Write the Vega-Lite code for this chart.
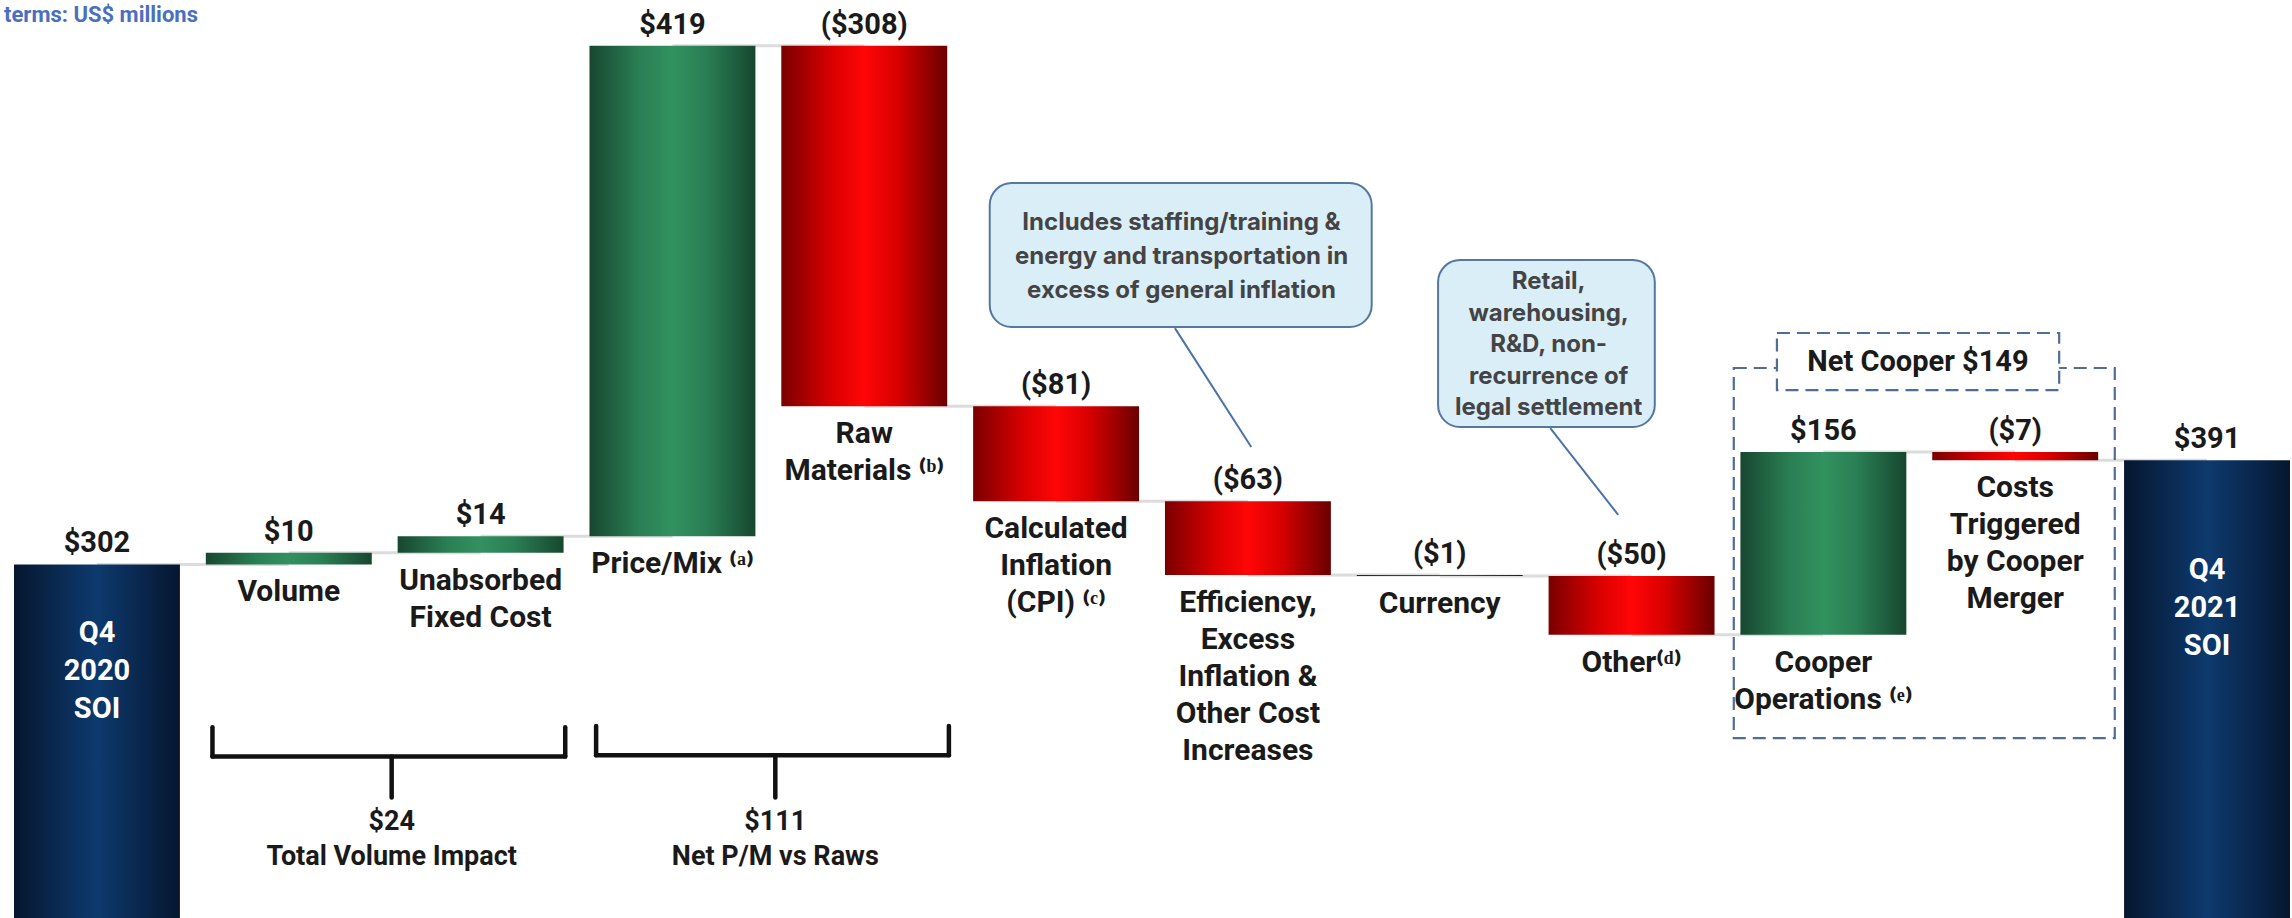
{
  "$schema": "https://vega.github.io/schema/vega-lite/v6.json",
  "width": 2292,
  "height": 918,
  "padding": 0,
  "autosize": {"type": "none"},
  "background": "white",
  "config": {"view": {"stroke": null}, "axis": {"disable": true}, "legend": {"disable": true}},
  "datasets": {
    "bars": [
      {"cat": "Q4 2020 SOI", "kind": "total", "start": 0, "end": 302, "top": 302, "bottom": 0, "value": "$302", "label": "", "next": "Volume"},
      {"cat": "Volume", "kind": "up", "start": 302, "end": 312, "top": 312, "bottom": 302, "value": "$10", "label": "Volume", "next": "Unabsorbed Fixed Cost"},
      {"cat": "Unabsorbed Fixed Cost", "kind": "up", "start": 312, "end": 326, "top": 326, "bottom": 312, "value": "$14", "label": "Unabsorbed\nFixed Cost", "next": "Price/Mix"},
      {"cat": "Price/Mix", "kind": "up", "start": 326, "end": 745, "top": 745, "bottom": 326, "value": "$419", "label": "Price/Mix ⁽ᵃ⁾", "next": "Raw Materials"},
      {"cat": "Raw Materials", "kind": "down", "start": 745, "end": 437, "top": 745, "bottom": 437, "value": "($308)", "label": "Raw\nMaterials ⁽ᵇ⁾", "next": "Calculated Inflation"},
      {"cat": "Calculated Inflation", "kind": "down", "start": 437, "end": 356, "top": 437, "bottom": 356, "value": "($81)", "label": "Calculated\nInflation\n(CPI) ⁽ᶜ⁾", "next": "Efficiency"},
      {"cat": "Efficiency", "kind": "down", "start": 356, "end": 293, "top": 356, "bottom": 293, "value": "($63)", "label": "Efficiency,\nExcess\nInflation &\nOther Cost\nIncreases", "next": "Currency"},
      {"cat": "Currency", "kind": "down", "start": 293, "end": 292, "top": 293, "bottom": 292, "value": "($1)", "label": "Currency", "next": "Other"},
      {"cat": "Other", "kind": "down", "start": 292, "end": 242, "top": 292, "bottom": 242, "value": "($50)", "label": "Other⁽ᵈ⁾", "next": "Cooper Operations"},
      {"cat": "Cooper Operations", "kind": "up", "start": 242, "end": 398, "top": 398, "bottom": 242, "value": "$156", "label": "Cooper\nOperations ⁽ᵉ⁾", "next": "Costs Triggered"},
      {"cat": "Costs Triggered", "kind": "down", "start": 398, "end": 391, "top": 398, "bottom": 391, "value": "($7)", "label": "Costs\nTriggered\nby Cooper\nMerger", "next": "Q4 2021 SOI"},
      {"cat": "Q4 2021 SOI", "kind": "total", "start": 0, "end": 391, "top": 391, "bottom": 0, "value": "$391", "label": "", "next": null}
    ],
    "inner": [
      {"cat": "Q4 2020 SOI", "y": 243.4, "text": "Q4\n2020\nSOI"},
      {"cat": "Q4 2021 SOI", "y": 297, "text": "Q4\n2021\nSOI"}
    ],
    "braces": [
      {"a": "Volume", "b": "Unabsorbed Fixed Cost", "top": 163, "mid": 138, "tip": 103, "ty": 82, "text": "$24\nTotal Volume Impact"},
      {"a": "Price/Mix", "b": "Raw Materials", "top": 164, "mid": 139, "tip": 103, "ty": 82, "text": "$111\nNet P/M vs Raws"}
    ]
  },
  "layer": [
    {
      "data": {"name": "bars"},
      "transform": [{"filter": "datum.next != null"}],
      "mark": {"type": "rule", "color": "#dcdcdc", "strokeWidth": 3},
      "encoding": {
        "x": {"field": "cat", "type": "nominal", "scale": {"type": "band", "domain": ["Q4 2020 SOI", "Volume", "Unabsorbed Fixed Cost", "Price/Mix", "Raw Materials", "Calculated Inflation", "Efficiency", "Currency", "Other", "Cooper Operations", "Costs Triggered", "Q4 2021 SOI"], "paddingInner": 0.135, "paddingOuter": 0.0417, "align": 0.875}},
        "x2": {"field": "next"},
        "y": {"field": "end", "type": "quantitative", "scale": {"domain": [0, 784], "nice": false, "zero": false}}
      }
    },
    {
      "data": {"name": "bars"},
      "transform": [{"filter": "datum.kind == 'total'"}],
      "mark": {"type": "bar", "color": {"gradient": "linear", "x1": 0, "y1": 0, "x2": 1, "y2": 0, "stops": [{"offset": 0, "color": "#06162f"}, {"offset": 0.5, "color": "#0d3a6e"}, {"offset": 1, "color": "#06162f"}]}},
      "encoding": {
        "x": {"field": "cat", "type": "nominal"},
        "y": {"field": "start", "type": "quantitative"},
        "y2": {"field": "end"}
      }
    },
    {
      "data": {"name": "bars"},
      "transform": [{"filter": "datum.kind == 'up'"}],
      "mark": {"type": "bar", "color": {"gradient": "linear", "x1": 0, "y1": 0, "x2": 1, "y2": 0, "stops": [{"offset": 0, "color": "#17472f"}, {"offset": 0.3, "color": "#2a7f54"}, {"offset": 0.5, "color": "#32915f"}, {"offset": 0.7, "color": "#2a7f54"}, {"offset": 1, "color": "#17472f"}]}},
      "encoding": {
        "x": {"field": "cat", "type": "nominal"},
        "y": {"field": "start", "type": "quantitative"},
        "y2": {"field": "end"}
      }
    },
    {
      "data": {"name": "bars"},
      "transform": [{"filter": "datum.kind == 'down'"}],
      "mark": {"type": "bar", "color": {"gradient": "linear", "x1": 0, "y1": 0, "x2": 1, "y2": 0, "stops": [{"offset": 0, "color": "#7a0000"}, {"offset": 0.3, "color": "#d80000"}, {"offset": 0.5, "color": "#ff0606"}, {"offset": 0.7, "color": "#d80000"}, {"offset": 1, "color": "#6a0000"}]}},
      "encoding": {
        "x": {"field": "cat", "type": "nominal"},
        "y": {"field": "start", "type": "quantitative"},
        "y2": {"field": "end"}
      }
    },
    {
      "data": {"name": "bars"},
      "mark": {"type": "text", "font": "Roboto", "fontWeight": "bold", "fontSize": 29, "color": "#1a1a1a", "baseline": "alphabetic", "dy": -12},
      "encoding": {
        "x": {"field": "cat", "type": "nominal"},
        "y": {"field": "top", "type": "quantitative"},
        "text": {"field": "value"}
      }
    },
    {
      "data": {"name": "bars"},
      "transform": [{"filter": "datum.kind != 'total'"}],
      "mark": {"type": "text", "font": "Roboto", "fontWeight": "bold", "fontSize": 30, "color": "#1a1a1a", "baseline": "top", "dy": 13, "lineHeight": 37, "lineBreak": "\n"},
      "encoding": {
        "x": {"field": "cat", "type": "nominal"},
        "y": {"field": "bottom", "type": "quantitative"},
        "text": {"field": "label"}
      }
    },
    {
      "data": {"name": "inner"},
      "mark": {"type": "text", "font": "Roboto", "fontWeight": "bold", "fontSize": 29, "color": "white", "baseline": "middle", "lineHeight": 38, "lineBreak": "\n"},
      "encoding": {
        "x": {"field": "cat", "type": "nominal"},
        "y": {"field": "y", "type": "quantitative"},
        "text": {"field": "text"}
      }
    },
    {
      "data": {"name": "braces"},
      "mark": {"type": "rule", "color": "#111111", "strokeWidth": 4.5, "strokeCap": "round"},
      "encoding": {
        "x": {"field": "a", "type": "nominal", "bandPosition": 0.04},
        "y": {"field": "top", "type": "quantitative"},
        "y2": {"field": "mid"}
      }
    },
    {
      "data": {"name": "braces"},
      "mark": {"type": "rule", "color": "#111111", "strokeWidth": 4.5, "strokeCap": "round"},
      "encoding": {
        "x": {"field": "b", "type": "nominal", "bandPosition": 1.01},
        "y": {"field": "top", "type": "quantitative"},
        "y2": {"field": "mid"}
      }
    },
    {
      "data": {"name": "braces"},
      "mark": {"type": "rule", "color": "#111111", "strokeWidth": 4.5, "strokeCap": "round"},
      "encoding": {
        "x": {"field": "a", "type": "nominal", "bandPosition": 0.04},
        "x2": {"field": "b", "bandPosition": 1.01},
        "y": {"field": "mid", "type": "quantitative"}
      }
    },
    {
      "data": {"name": "braces"},
      "mark": {"type": "rule", "color": "#111111", "strokeWidth": 4.5, "strokeCap": "round"},
      "encoding": {
        "x": {"field": "a", "type": "nominal", "bandPosition": 1.12},
        "y": {"field": "mid", "type": "quantitative"},
        "y2": {"field": "tip"}
      }
    },
    {
      "data": {"name": "braces"},
      "mark": {"type": "text", "font": "Roboto", "fontWeight": "bold", "fontSize": 27, "color": "#1a1a1a", "baseline": "middle", "lineHeight": 35, "lineBreak": "\n"},
      "encoding": {
        "x": {"field": "a", "type": "nominal", "bandPosition": 1.12},
        "y": {"field": "ty", "type": "quantitative"},
        "text": {"field": "text"}
      }
    },
    {
      "data": {"values": [{"lx": "Efficiency", "ly1": 503.8, "ly2": 402.2}]},
      "mark": {"type": "rule", "color": "#4d73a6", "strokeWidth": 2},
      "encoding": {
        "x": {"field": "lx", "type": "nominal", "bandPosition": 0.06},
        "x2": {"field": "lx", "bandPosition": 0.52},
        "y": {"field": "ly1", "type": "quantitative"},
        "y2": {"field": "ly2"}
      }
    },
    {
      "data": {"values": [{"c1": "Calculated Inflation", "c2": "Currency", "y1": 627.7, "y2": 504.7}]},
      "mark": {"type": "rect", "cornerRadius": 22, "fill": "#daeef8", "stroke": "#56779f", "strokeWidth": 2},
      "encoding": {
        "x": {"field": "c1", "type": "nominal", "bandPosition": 0.10},
        "x2": {"field": "c2", "bandPosition": 0.09},
        "y": {"field": "y1", "type": "quantitative"},
        "y2": {"field": "y2"}
      }
    },
    {
      "data": {"values": [{"ct": "Efficiency", "ty": 593.5, "text": "Includes staffing/training &\nenergy and transportation in\nexcess of general inflation"}]},
      "mark": {"type": "text", "font": "Inter", "fontWeight": "bold", "fontSize": 24, "color": "#444444", "baseline": "middle", "lineHeight": 34, "lineBreak": "\n"},
      "encoding": {
        "x": {"field": "ct", "type": "nominal", "bandPosition": 0.10},
        "y": {"field": "ty", "type": "quantitative"},
        "text": {"field": "text"}
      }
    },
    {
      "data": {"values": [{"lx": "Other", "ly1": 418.4, "ly2": 344.2}]},
      "mark": {"type": "rule", "color": "#4d73a6", "strokeWidth": 2},
      "encoding": {
        "x": {"field": "lx", "type": "nominal", "bandPosition": 0.01},
        "x2": {"field": "lx", "bandPosition": 0.42},
        "y": {"field": "ly1", "type": "quantitative"},
        "y2": {"field": "ly2"}
      }
    },
    {
      "data": {"values": [{"c1": "Currency", "c2": "Other", "y1": 561.9, "y2": 419.3}]},
      "mark": {"type": "rect", "cornerRadius": 22, "fill": "#daeef8", "stroke": "#56779f", "strokeWidth": 2},
      "encoding": {
        "x": {"field": "c1", "type": "nominal", "bandPosition": 0.49},
        "x2": {"field": "c2", "bandPosition": 0.64},
        "y": {"field": "y1", "type": "quantitative"},
        "y2": {"field": "y2"}
      }
    },
    {
      "data": {"values": [{"ct": "Other", "ty": 543.1, "text": "Retail,\nwarehousing,\nR&D, non-\nrecurrence of\nlegal settlement"}]},
      "mark": {"type": "text", "font": "Inter", "fontWeight": "bold", "fontSize": 24, "color": "#444444", "baseline": "middle", "lineHeight": 31.5, "lineBreak": "\n"},
      "encoding": {
        "x": {"field": "ct", "type": "nominal", "bandPosition": 0.0},
        "y": {"field": "ty", "type": "quantitative"},
        "text": {"field": "text"}
      }
    },
    {
      "data": {"values": [{"c1": "Cooper Operations", "c2": "Costs Triggered", "y1": 469.7, "y2": 153.7}]},
      "mark": {"type": "rect", "fill": "white", "fillOpacity": 0, "stroke": "#4f6d96", "strokeWidth": 2.2, "strokeDash": [13, 7]},
      "encoding": {
        "x": {"field": "c1", "type": "nominal", "bandPosition": -0.04},
        "x2": {"field": "c2", "bandPosition": 1.10},
        "y": {"field": "y1", "type": "quantitative"},
        "y2": {"field": "y2"}
      }
    },
    {
      "data": {"values": [{"c1": "Cooper Operations", "c2": "Costs Triggered", "y1": 499.6, "y2": 450.9}]},
      "mark": {"type": "rect", "fill": "white", "stroke": "#4f6d96", "strokeWidth": 2.2, "strokeDash": [13, 7]},
      "encoding": {
        "x": {"field": "c1", "type": "nominal", "bandPosition": 0.22},
        "x2": {"field": "c2", "bandPosition": 0.765},
        "y": {"field": "y1", "type": "quantitative"},
        "y2": {"field": "y2"}
      }
    },
    {
      "data": {"values": [{"c1": "Cooper Operations", "ty": 474.8, "text": "Net Cooper $149"}]},
      "mark": {"type": "text", "font": "Roboto", "fontWeight": "bold", "fontSize": 29, "color": "#1a1a1a", "baseline": "middle"},
      "encoding": {
        "x": {"field": "c1", "type": "nominal", "bandPosition": 1.07},
        "y": {"field": "ty", "type": "quantitative"},
        "text": {"field": "text"}
      }
    },
    {
      "data": {"values": [{"cat": "Q4 2020 SOI", "y": 765.2, "text": "terms: US$ millions"}]},
      "mark": {"type": "text", "font": "Roboto", "fontWeight": "bold", "fontSize": 22, "color": "#4a6fbf", "align": "left", "baseline": "alphabetic"},
      "encoding": {
        "x": {"field": "cat", "type": "nominal", "bandPosition": -0.06},
        "y": {"field": "y", "type": "quantitative"},
        "text": {"field": "text"}
      }
    }
  ]
}
